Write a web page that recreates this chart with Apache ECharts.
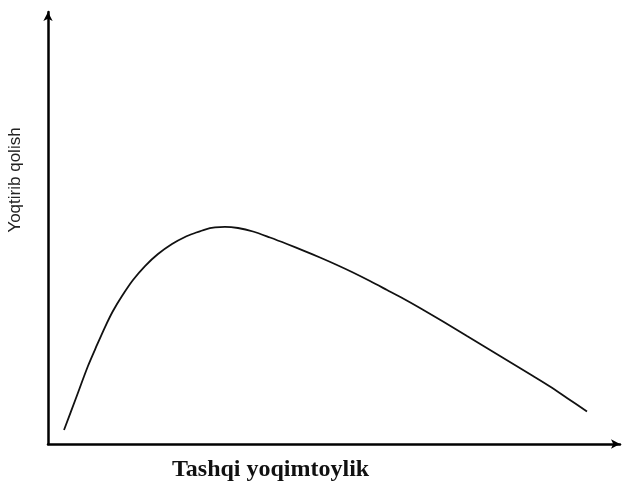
<!DOCTYPE html>
<html>
<head>
<meta charset="utf-8">
<script src="https://cdn.jsdelivr.net/npm/echarts@6/dist/echarts.min.js"></script>
<style>html,body{margin:0;padding:0;background:#fff}#c{width:629px;height:483px}</style>
</head>
<body>
<div id="c"></div>
<script>
var xLabel = 'Tashqi yoqimtoylik';
var yLabel = 'Yoqtirib qolish';
var xValues = [2.80, 4.90, 6.99, 8.57, 9.97, 11.36, 12.94, 14.86, 16.96, 19.23, 21.68, 23.95, 25.70, 27.45, 29.20, 30.94, 33.22, 35.84, 38.81, 41.78, 44.76, 47.55, 50.52, 53.32, 56.29, 59.27, 62.24, 65.03, 69.06, 73.25, 79.02, 84.79, 87.76, 90.73, 94.23];
var yValues = [3.24, 10.65, 18.06, 22.92, 27.08, 30.79, 34.26, 37.96, 41.20, 43.98, 46.30, 47.92, 48.84, 49.65, 50.12, 50.28, 50.00, 49.19, 47.80, 46.30, 44.72, 43.17, 41.44, 39.70, 37.73, 35.65, 33.56, 31.48, 28.36, 25.00, 20.37, 15.74, 13.31, 10.65, 7.52];

var data = xValues.map(function (x, i) { return [x, yValues[i]]; });
var chart = echarts.init(document.getElementById('c'), null, {renderer: 'canvas'});
chart.setOption({
  animation: false,
  backgroundColor: '#fff',
  grid: {left: 48, right: 9, top: 12, bottom: 39, containLabel: false, outerBoundsMode: 'none'},
  xAxis: {
    type: 'value', min: 0, max: 100,
    axisLine: {show: true, lineStyle: {color: '#000', width: 2.5}, symbol: ['none', 'arrow'], symbolSize: [7, 9]},
    axisTick: {show: false}, axisLabel: {show: false}, splitLine: {show: false}
  },
  yAxis: {
    type: 'value', min: 0, max: 100,
    axisLine: {show: true, lineStyle: {color: '#000', width: 2.5}, symbol: ['none', 'arrow'], symbolSize: [7, 9]},
    axisTick: {show: false}, axisLabel: {show: false}, splitLine: {show: false}
  },
  graphic: [
    {type: 'text', left: 172, top: 458, style: {text: xLabel, font: 'bold 24px "Liberation Serif"', fill: '#111'}},
    {type: 'text', x: 15, y: 180, rotation: Math.PI / 2, style: {text: yLabel, font: '17px "Liberation Sans"', fill: '#222', align: 'center', verticalAlign: 'middle'}}
  ],
  series: [{
    type: 'line', data: data, smooth: 0.3, showSymbol: false,
    lineStyle: {color: '#111', width: 1.8}
  }]
});
</script>
</body>
</html>
